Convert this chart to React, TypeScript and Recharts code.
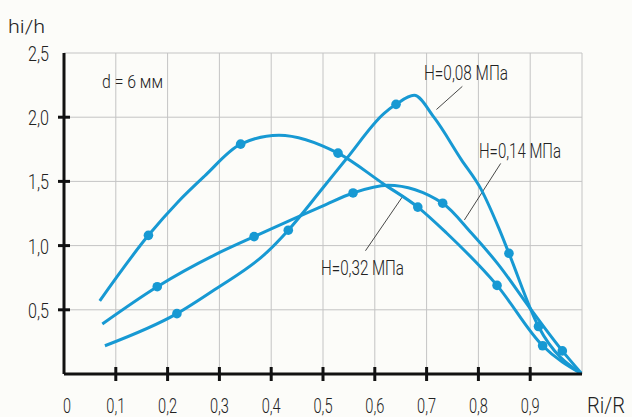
import React from 'react';
import { LineChart, Line, XAxis, YAxis, CartesianGrid, ReferenceLine } from 'recharts';

// ---- data ----
const X_TICKS = [0, 0.1, 0.2, 0.3, 0.4, 0.5, 0.6, 0.7, 0.8, 0.9, 1.0];
const X_TICK_LABELS = ['0', '0,1', '0,2', '0,3', '0,4', '0,5', '0,6', '0,7', '0,8', '0,9', ''];
const Y_TICKS = [0, 0.5, 1.0, 1.5, 2.0, 2.5];
const Y_TICK_LABELS = ['', '0,5', '1,0', '1,5', '2,0', '2,5'];

const H008_X = [0.079, 0.218, 0.292, 0.391, 0.433, 0.5, 0.546, 0.618, 0.641, 0.676, 0.714, 0.767, 0.805, 0.84, 0.859, 0.916, 1.0];
const H008_Y = [0.22, 0.47, 0.66, 0.945, 1.12, 1.45, 1.68, 2.03, 2.1, 2.17, 2.0, 1.67, 1.44, 1.13, 0.94, 0.37, 0];
const H008_MARKED = [0.218, 0.433, 0.641, 0.859, 0.916];

const H014_X = [0.074, 0.18, 0.292, 0.367, 0.5, 0.558, 0.625, 0.731, 0.786, 0.839, 0.9, 0.962, 1.0];
const H014_Y = [0.39, 0.68, 0.93, 1.07, 1.31, 1.41, 1.47, 1.33, 1.1, 0.85, 0.51, 0.18, 0];
const H014_MARKED = [0.18, 0.367, 0.558, 0.731, 0.962];

const H032_X = [0.069, 0.163, 0.22, 0.271, 0.341, 0.415, 0.529, 0.617, 0.683, 0.738, 0.836, 0.924, 1.0];
const H032_Y = [0.57, 1.08, 1.34, 1.54, 1.79, 1.86, 1.72, 1.48, 1.3, 1.1, 0.69, 0.22, 0];
const H032_MARKED = [0.163, 0.341, 0.529, 0.683, 0.836, 0.924];

const SERIES_NAMES = ['H=0,08 МПа', 'H=0,14 МПа', 'H=0,32 МПа'];

// leader lines (data coordinates): [x1, y1, x2, y2]
const LEADER_008 = [0.719, 2.06, 0.769, 2.24];
const LEADER_014 = [0.773, 1.2, 0.843, 1.64];
const LEADER_032 = [0.655, 1.39, 0.582, 0.96];

const build = (xs: number[], ys: number[], marked: number[]) =>
  xs.map((x, i) => ({ x, y: ys[i], m: marked.includes(x) }));

const d008 = build(H008_X, H008_Y, H008_MARKED);
const d014 = build(H014_X, H014_Y, H014_MARKED);
const d032 = build(H032_X, H032_Y, H032_MARKED);

const BLUE = '#1799d3';
const INK = '#222222';
const FONT = "Roboto, 'Liberation Sans', 'DejaVu Sans', sans-serif";
const WEIGHT = 300;

const renderDot = (p: any) => {
  const key = `d-${p.index}-${p.cx}`;
  if (!p.payload || !p.payload.m) return <g key={key} />;
  return <circle key={key} cx={p.cx} cy={p.cy} r={4.8} fill={BLUE} stroke="none" />;
};

const XTick = (props: any) => {
  const { x, y, payload } = props;
  const v = payload.value;
  const idx = X_TICKS.findIndex((t) => Math.abs(t - v) < 1e-6);
  const label = idx >= 0 ? X_TICK_LABELS[idx] : '';
  const mark = v > 0.05 && v < 0.95;
  return (
    <g>
      {mark && <line x1={x} x2={x} y1={y - 7} y2={y + 7} stroke="#111" strokeWidth={3} />}
      {label && (
        <text
          x={label === '0' ? x + 3 : x}
          y={y + 39}
          textAnchor="middle"
          fontFamily={FONT}
          fontWeight={WEIGHT}
          fontSize={21}
          fill={INK}
          textLength={label.length > 1 ? 19 : 8}
          lengthAdjust="spacingAndGlyphs"
        >
          {label}
        </text>
      )}
    </g>
  );
};

const YTick = (props: any) => {
  const { x, y, payload } = props;
  const v = payload.value;
  const idx = Y_TICKS.findIndex((t) => Math.abs(t - v) < 1e-6);
  const label = idx >= 0 ? Y_TICK_LABELS[idx] : '';
  const mark = v > 0.25 && v < 2.25;
  return (
    <g>
      {mark && <line x1={x - 6} x2={x + 6} y1={y} y2={y} stroke="#111" strokeWidth={3} />}
      {label && (
        <text
          x={x - 15}
          y={y + 8}
          textAnchor="end"
          fontFamily={FONT}
          fontWeight={WEIGHT}
          fontSize={21}
          fill={INK}
          textLength={21}
          lengthAdjust="spacingAndGlyphs"
        >
          {label}
        </text>
      )}
    </g>
  );
};

const Txt = ({ x, y, size, len, children }: any) => (
  <text
    x={x}
    y={y}
    fontFamily={FONT}
    fontWeight={WEIGHT}
    fontSize={size}
    fill={INK}
    textLength={len}
    lengthAdjust="spacingAndGlyphs"
  >
    {children}
  </text>
);

export default function App() {
  return (
    <div style={{ position: 'relative', width: 632, height: 417, background: '#fcfcf9' }}>
      <style>{'html,body{margin:0;padding:0;background:#fcfcf9;overflow:hidden}'}</style>
      <LineChart width={632} height={417} margin={{ top: 53, right: 50, bottom: 0, left: 0 }}>
        <CartesianGrid stroke="#c4c4c4" strokeWidth={1} />
        <XAxis
          type="number"
          dataKey="x"
          domain={[0, 1]}
          ticks={X_TICKS}
          interval={0}
          height={43}
          tickSize={0}
          tickMargin={0}
          tickLine={false}
          axisLine={{ stroke: '#111', strokeWidth: 3 }}
          tick={<XTick />}
          allowDataOverflow
        />
        <YAxis
          type="number"
          dataKey="y"
          domain={[0, 2.5]}
          ticks={Y_TICKS}
          interval={0}
          width={64}
          tickSize={0}
          tickMargin={0}
          tickLine={false}
          axisLine={{ stroke: '#111', strokeWidth: 3 }}
          tick={<YTick />}
          allowDataOverflow
        />
        <ReferenceLine
          segment={[{ x: LEADER_008[0], y: LEADER_008[1] }, { x: LEADER_008[2], y: LEADER_008[3] }]}
          stroke="#333"
          strokeWidth={0.9}
        />
        <ReferenceLine
          segment={[{ x: LEADER_014[0], y: LEADER_014[1] }, { x: LEADER_014[2], y: LEADER_014[3] }]}
          stroke="#333"
          strokeWidth={0.9}
        />
        <ReferenceLine
          segment={[{ x: LEADER_032[0], y: LEADER_032[1] }, { x: LEADER_032[2], y: LEADER_032[3] }]}
          stroke="#333"
          strokeWidth={0.9}
        />
        <Line data={d008} dataKey="y" name={SERIES_NAMES[0]} type="monotone" stroke={BLUE} strokeWidth={3} dot={renderDot} activeDot={false} isAnimationActive={false} />
        <Line data={d014} dataKey="y" name={SERIES_NAMES[1]} type="monotone" stroke={BLUE} strokeWidth={3} dot={renderDot} activeDot={false} isAnimationActive={false} />
        <Line data={d032} dataKey="y" name={SERIES_NAMES[2]} type="monotone" stroke={BLUE} strokeWidth={3} dot={renderDot} activeDot={false} isAnimationActive={false} />
      </LineChart>
      <svg width={632} height={417} style={{ position: 'absolute', left: 0, top: 0, pointerEvents: 'none' }}>
        <Txt x={8} y={33} size={19} len={37}>hi/h</Txt>
        <Txt x={587} y={413} size={22} len={38}>Ri/R</Txt>
        <Txt x={102} y={88} size={18} len={61}>d = 6 мм</Txt>
        <Txt x={424} y={80} size={20} len={84}>{SERIES_NAMES[0]}</Txt>
        <Txt x={479} y={158} size={20} len={82}>{SERIES_NAMES[1]}</Txt>
        <Txt x={321} y={275} size={20} len={83}>{SERIES_NAMES[2]}</Txt>
      </svg>
    </div>
  );
}
